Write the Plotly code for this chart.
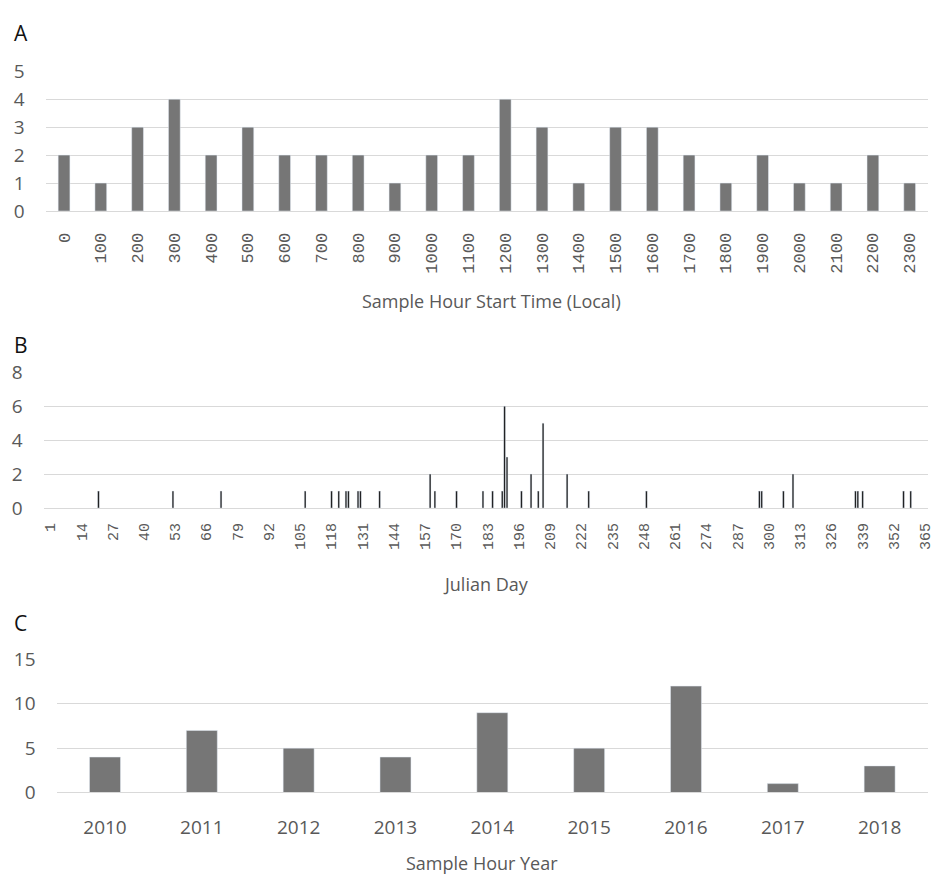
import plotly.graph_objects as go

W, H = 942, 888

# ---------------- data ----------------
hour_labels = ["0", "100", "200", "300", "400", "500", "600", "700", "800", "900",
               "1000", "1100", "1200", "1300", "1400", "1500", "1600", "1700",
               "1800", "1900", "2000", "2100", "2200", "2300"]
hour_counts = [2, 1, 3, 4, 2, 3, 2, 2, 2, 1, 2, 2, 4, 3, 1, 3, 3, 2, 1, 2, 1, 1, 2, 1]

julian_days = [21, 52, 72, 107, 118, 121, 124, 125, 129, 130, 138, 159, 161, 170,
               181, 185, 189, 190, 191, 197, 201, 204, 206, 216, 225, 249, 296,
               297, 306, 310, 336, 337, 339, 356, 359]
julian_counts = [1, 1, 1, 1, 1, 1, 1, 1, 1, 1, 1, 2, 1, 1,
                 1, 1, 1, 6, 3, 1, 2, 1, 5, 2, 1, 1, 1,
                 1, 1, 2, 1, 1, 1, 1, 1]
julian_ticks = [1, 14, 27, 40, 53, 66, 79, 92, 105, 118, 131, 144, 157, 170, 183,
                196, 209, 222, 235, 248, 261, 274, 287, 300, 313, 326, 339, 352, 365]

year_labels = ["2010", "2011", "2012", "2013", "2014", "2015", "2016", "2017", "2018"]
year_counts = [4, 7, 5, 4, 9, 5, 12, 1, 3]

# ---------------- helpers ----------------
def px_x(x):
    return x / W

def px_y(y):
    return 1 - y / H

GRID = "#d9d9d9"
TXT = "#595959"
BAR = "#767676"
SANS = "Open Sans, Noto Sans, sans-serif"
MONO = "Liberation Mono, DejaVu Sans Mono, monospace"

fig = go.Figure()

fig.add_trace(go.Bar(x=hour_labels, y=hour_counts, marker_color=BAR,
                     xaxis="x", yaxis="y", showlegend=False))
fig.add_trace(go.Bar(x=julian_days, y=julian_counts, marker_color="#000000",
                     width=0.7, xaxis="x2", yaxis="y2", showlegend=False))
fig.add_trace(go.Bar(x=year_labels, y=year_counts, marker_color=BAR,
                     xaxis="x3", yaxis="y3", showlegend=False))

common_y = dict(showgrid=True, gridcolor=GRID, gridwidth=1, zeroline=True,
                zerolinecolor=GRID, zerolinewidth=1, showline=False, ticks="",
                tickfont=dict(family=SANS, size=19, color=TXT),
                ticklabelstandoff=20, fixedrange=True)

fig.update_layout(
    width=W, height=H,
    autosize=False,
    margin=dict(l=0, r=0, t=0, b=0, pad=0),
    paper_bgcolor="white", plot_bgcolor="white",
    bargap=0.68,
    hovermode=False,
    xaxis=dict(domain=[px_x(46), px_x(935)], type="category",
               tickangle=-90, showgrid=False, showline=True, linecolor=GRID,
               ticks="", tickfont=dict(family=MONO, size=17, color=TXT),
               ticklabelstandoff=14, anchor="y", fixedrange=True),
    yaxis=dict(domain=[px_y(204), px_y(60)], range=[0, 5], dtick=1,
               anchor="x", **common_y),
    xaxis2=dict(domain=[px_x(44), px_x(935)], range=[-1.8, 366.2],
                tickmode="array", tickvals=julian_ticks,
                ticktext=[str(t) for t in julian_ticks],
                tickangle=-90, showgrid=False, showline=True, linecolor=GRID,
                ticks="", zeroline=False,
                tickfont=dict(family=MONO, size=15, color=TXT),
                ticklabelstandoff=8, anchor="y2", fixedrange=True),
    yaxis2=dict(domain=[px_y(510), px_y(370)], range=[0, 8], dtick=2,
                anchor="x2", **common_y),
    xaxis3=dict(domain=[px_x(57), px_x(935)], type="category",
                showgrid=False, showline=True, linecolor=GRID, ticks="",
                tickfont=dict(family=SANS, size=19, color=TXT),
                ticklabelstandoff=18, anchor="y3", fixedrange=True),
    yaxis3=dict(domain=[px_y(803), px_y(666)], range=[0, 15], dtick=5,
                anchor="x3", **common_y),
)

def label(text, x, y, size, color=TXT):
    fig.add_annotation(text=text, x=px_x(x), y=px_y(y), xref="paper", yref="paper",
                       showarrow=False, xanchor="center", yanchor="middle",
                       font=dict(family=SANS, size=size, color=color))

label("A", 21, 21, 21, "#111111")
label("B", 21, 342, 21, "#111111")
label("C", 21, 628, 21, "#111111")
label("Sample Hour Start Time (Local)", 495, 297, 18)
label("Julian Day", 490, 588, 18)
label("Sample Hour Year", 486, 876, 18)

fig.write_html("out.html",
               config={"displayModeBar": False, "staticPlot": True},
               post_script="document.body.style.margin='0';"
                           "document.body.style.overflow='hidden';")
